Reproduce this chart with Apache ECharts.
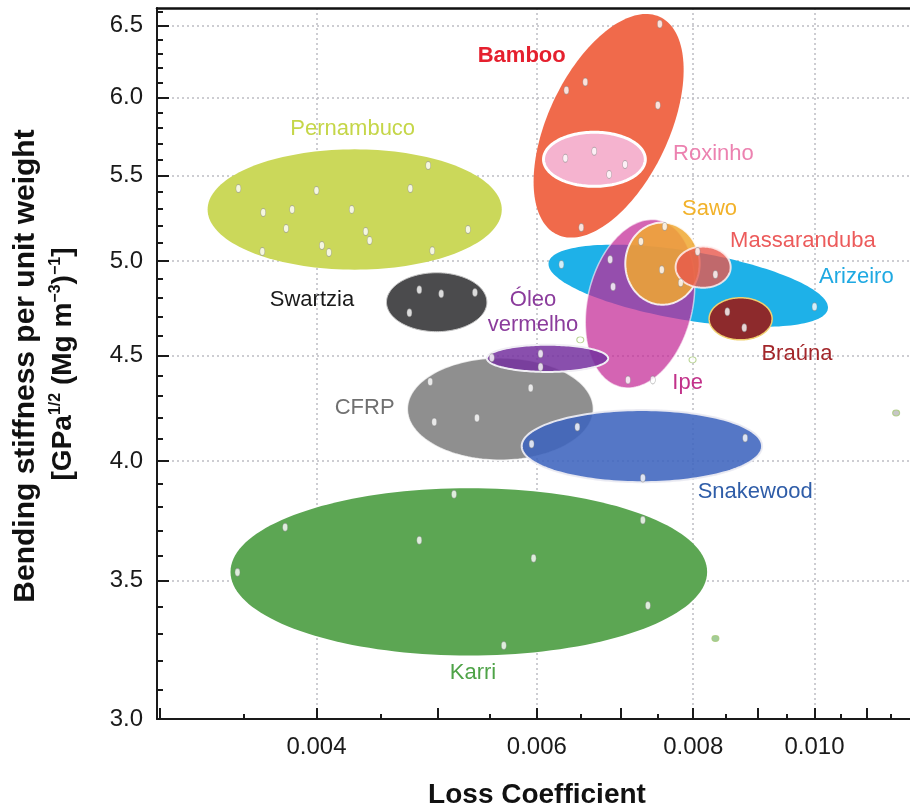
<!DOCTYPE html>
<html>
<head>
<meta charset="utf-8">
<script src="https://cdn.jsdelivr.net/npm/echarts@6/dist/echarts.min.js"></script>
<style>
  html, body { margin: 0; padding: 0; background: #fff; }
  #chart { width: 910px; height: 810px; }
</style>
</head>
<body>
<div id="chart"></div>
<script>
// Property ranges per material (loss coefficient, specific bending stiffness)
const materials = ['Pernambuco', 'Karri', 'CFRP', 'Swartzia', 'Snakewood', 'Bamboo', 'Roxinho',
  'Arizeiro', 'Ipe', 'Óleo vermelho', 'Sawo', 'Massaranduba', 'Braúna'];
const lossMin = [0.003274, 0.003415, 0.004728, 0.00455, 0.005835, 0.005964, 0.006074,
  0.00613, 0.006559, 0.005473, 0.00706, 0.007745, 0.008237];
const lossMax = [0.005625, 0.008207, 0.006658, 0.005473, 0.00908, 0.00786, 0.007325,
  0.01025, 0.008023, 0.006841, 0.008095, 0.00857, 0.00925];
const stiffMin = [4.952, 3.22, 4.004, 4.621, 3.907, 5.132, 5.434,
  4.646, 4.34, 4.418, 4.762, 4.853, 4.579];
const stiffMax = [5.663, 3.881, 4.488, 4.935, 4.234, 6.586, 5.772,
  5.092, 5.237, 4.554, 5.219, 5.081, 4.799];
// correlation between log(loss) and log(stiffness) inside each region (tilt of the ellipse)
const correlation = [0, 0, 0, 0, 0, 0.5, 0, -0.53, 0.22, 0, 0, 0, 0];

// Individual specimens
const specimenLoss = [
  0.003465, 0.0040, 0.004913, 0.004754, 0.003627, 0.003825, 0.004268, 0.003783, 0.004379, 0.004411,
  0.005286, 0.003621, 0.00404, 0.004093, 0.00495,
  0.007523, 0.006559, 0.006511, 0.006335, 0.007496,
  0.006323, 0.006668, 0.007057, 0.006853,
  0.004833, 0.005032, 0.005354, 0.004746,
  0.004931, 0.005932, 0.004968, 0.005374,
  0.005523, 0.006041, 0.006041,
  0.005942, 0.006464, 0.008802, 0.007292,
  0.003459, 0.003776, 0.004833, 0.005152, 0.005964, 0.007292, 0.00736, 0.005646,
  0.006277, 0.01,
  0.007591, 0.007266, 0.00755, 0.007818,
  0.006866, 0.006903, 0.007095, 0.007427,
  0.008064, 0.008333,
  0.008518, 0.008788
];
const specimenStiff = [
  5.421, 5.409, 5.562, 5.421, 5.278, 5.296, 5.296, 5.184, 5.167, 5.115,
  5.179, 5.053, 5.087, 5.047, 5.058,
  6.512, 6.104, 5.19, 6.049, 5.948,
  5.607, 5.651, 5.568, 5.507,
  4.842, 4.821, 4.827, 4.72,
  4.37, 4.34, 4.178, 4.197,
  4.488, 4.508, 4.443,
  4.077, 4.155, 4.104, 3.925,
  3.533, 3.715, 3.662, 3.855, 3.589, 3.745, 3.405, 3.256,
  4.98, 4.751,
  5.196, 5.11, 4.952, 4.88,
  5.008, 4.859, 4.379, 4.379,
  5.053, 4.925,
  4.725, 4.641
];
// Isolated single measurements
const singleLoss = [0.00799, 0.01162, 0.008333, 0.006499];
const singleStiff = [4.478, 4.22, 3.282, 4.579];

// Axis ticks
const xTickLabels = [0.004, 0.006, 0.008, 0.010];
const xMajorTicks = [0.003, 0.004, 0.005, 0.006, 0.007, 0.008, 0.009, 0.010, 0.011];
const xMinorTicks = [0.0035, 0.0045, 0.0055, 0.0065, 0.0075, 0.0085, 0.0095, 0.0105, 0.0115];
const yTickLabels = [3.0, 3.5, 4.0, 4.5, 5.0, 5.5, 6.0, 6.5];
const yMinorTicks = [3.1, 3.2, 3.3, 3.4, 3.6, 3.7, 3.8, 3.9, 4.1, 4.2, 4.3, 4.4, 4.6, 4.7, 4.8, 4.9,
  5.1, 5.2, 5.3, 5.4, 5.6, 5.7, 5.8, 5.9, 6.1, 6.2, 6.3, 6.4, 6.6];
const xRange = [0.002983, 0.01192];
const yRange = [3.0, 6.63];

// ---- presentation ----
const FONT = '"Liberation Sans", Arial, Helvetica, sans-serif';
const L = Math.log10;

const regionStyle = {
  'Pernambuco':    { fill: '#cbd85a' },
  'Karri':         { fill: '#5ca653' },
  'CFRP':          { fill: '#8f8f8f', stroke: 'rgba(255,255,255,0.75)', lw: 1.5 },
  'Swartzia':      { fill: '#4b4b4d', stroke: '#c8c8c8', lw: 1 },
  'Snakewood':     { fill: 'rgba(62,100,190,0.88)', stroke: 'rgba(235,235,242,0.95)', lw: 2 },
  'Bamboo':        { fill: '#f06a4b' },
  'Roxinho':       { fill: '#f5b3cf', stroke: '#ffffff', lw: 3 },
  'Arizeiro':      { fill: '#1eb1e8' },
  'Ipe':           { fill: 'rgba(196,40,150,0.72)', stroke: 'rgba(255,255,255,0.6)', lw: 1.5 },
  'Óleo vermelho': { fill: 'rgba(118,50,160,0.86)', stroke: '#f0eef4', lw: 2 },
  'Sawo':          { fill: 'rgba(240,168,48,0.85)', stroke: 'rgba(255,255,255,0.85)', lw: 2 },
  'Massaranduba':  { fill: 'rgba(232,88,76,0.8)', stroke: 'rgba(255,240,240,0.85)', lw: 2 },
  'Braúna':        { fill: '#8d2a2c', stroke: '#f0d070', lw: 1.5 }
};

// label anchor in data units [loss, stiffness]
const labelLayout = {
  'Bamboo':        { at: [0.005835, 6.284], color: '#e5202e', bold: true },
  'Pernambuco':    { at: [0.004276, 5.791], color: '#c5d648' },
  'Roxinho':       { at: [0.008303, 5.632], color: '#ec82b0' },
  'Sawo':          { at: [0.008243, 5.296], color: '#f2b22a' },
  'Massaranduba':  { at: [0.009788, 5.115], color: '#ec5b5b' },
  'Arizeiro':      { at: [0.0108, 4.913], color: '#1fa9e2' },
  'Swartzia':      { at: [0.003967, 4.789], color: '#1a1a1a' },
  'Óleo vermelho': { at: [0.005958, 4.72], color: '#8b3c9c', text: 'Óleo\nvermelho' },
  'Braúna':        { at: [0.009681, 4.508], color: '#a3272b' },
  'Ipe':           { at: [0.007918, 4.364], color: '#c2328a' },
  'CFRP':          { at: [0.004371, 4.244], color: '#707070' },
  'Snakewood':     { at: [0.008965, 3.864], color: '#2f5da8' },
  'Karri':         { at: [0.005335, 3.159], color: '#4ea347' }
};

const regionData = materials.map((m, i) => ({
  name: m,
  value: [L(lossMin[i]), L(lossMax[i]), L(stiffMin[i]), L(stiffMax[i]), correlation[i]]
}));

function renderRegion(params, api) {
  const x0 = api.value(0), x1 = api.value(1), y0 = api.value(2), y1 = api.value(3), r = api.value(4);
  const cx = (x0 + x1) / 2, ax = (x1 - x0) / 2;
  const cy = (y0 + y1) / 2, ay = (y1 - y0) / 2;
  const delta = Math.acos(Math.max(-0.999, Math.min(0.999, r)));
  const pts = [];
  const N = 160;
  for (let k = 0; k < N; k++) {
    const t = (k / N) * Math.PI * 2;
    pts.push(api.coord([cx + ax * Math.cos(t), cy + ay * Math.cos(t - delta)]));
  }
  const st = regionStyle[materials[params.dataIndex]];
  return {
    type: 'polygon',
    shape: { points: pts },
    style: {
      fill: st.fill,
      stroke: st.stroke || 'none',
      lineWidth: st.lw || 0
    }
  };
}

const labelData = materials.map(m => ({
  name: m,
  value: [L(labelLayout[m].at[0]), L(labelLayout[m].at[1])]
}));

function renderLabel(params, api) {
  const m = materials[params.dataIndex];
  const lay = labelLayout[m];
  const p = api.coord([api.value(0), api.value(1)]);
  return {
    type: 'text',
    x: p[0], y: p[1],
    style: {
      text: lay.text || m,
      fill: lay.color,
      font: (lay.bold ? 'bold ' : '') + '22px ' + FONT,
      lineHeight: 25,
      align: 'center',
      verticalAlign: 'middle'
    },
    z2: 50
  };
}

const tickColor = '#1a1a1a';
const baseX = {
  type: 'value', min: L(xRange[0]), max: L(xRange[1]), position: 'bottom',
  axisLine: { show: false, onZero: false },
  axisLabel: { show: false },
  splitLine: { show: false }
};
const baseY = {
  type: 'value', min: L(yRange[0]), max: L(yRange[1]), position: 'left',
  axisLine: { show: false, onZero: false },
  axisLabel: { show: false },
  splitLine: { show: false }
};
const gridLine = { show: true, lineStyle: { color: '#bdbdc4', width: 1.5, type: [2, 3] } };

const chart = echarts.init(document.getElementById('chart'), null, { renderer: 'canvas' });
chart.setOption({
  backgroundColor: '#ffffff',
  animation: false,
  grid: { left: 157, top: 8, right: 0, bottom: 91 },
  xAxis: [
    Object.assign({}, baseX, {
      axisLine: { show: true, onZero: false, lineStyle: { color: tickColor, width: 2 } },
      axisTick: { show: true, inside: true, length: 11, customValues: xMajorTicks.map(L),
        lineStyle: { color: tickColor, width: 2 } }
    }),
    Object.assign({}, baseX, {
      axisTick: { show: true, inside: true, length: 5, customValues: xMinorTicks.map(L),
        lineStyle: { color: tickColor, width: 2 } }
    }),
    Object.assign({}, baseX, {
      axisTick: { show: false, customValues: xTickLabels.map(L) },
      axisLabel: {
        show: true, customValues: xTickLabels.map(L), margin: 16,
        color: '#1a1a1a', fontSize: 24, fontFamily: FONT,
        formatter: v => Math.pow(10, v).toFixed(3)
      },
      splitLine: gridLine
    }),
    Object.assign({}, baseX, {
      position: 'top',
      axisLine: { show: true, onZero: false, lineStyle: { color: '#111', width: 2.5 } },
      axisTick: { show: false }
    })
  ],
  yAxis: [
    Object.assign({}, baseY, {
      axisLine: { show: true, onZero: false, lineStyle: { color: tickColor, width: 2 } },
      axisTick: { show: true, inside: true, length: 12, customValues: yTickLabels.map(L),
        lineStyle: { color: tickColor, width: 2 } },
      axisLabel: {
        show: true, customValues: yTickLabels.map(L), margin: 14,
        color: '#1a1a1a', fontSize: 24, fontFamily: FONT,
        formatter: v => Math.pow(10, v).toFixed(1)
      },
      splitLine: gridLine
    }),
    Object.assign({}, baseY, {
      axisTick: { show: true, inside: true, length: 6, customValues: yMinorTicks.map(L),
        lineStyle: { color: tickColor, width: 2 } }
    })
  ],
  series: [
    {
      type: 'custom', name: 'regions', coordinateSystem: 'cartesian2d',
      renderItem: renderRegion, data: regionData, z: 2, silent: true
    },
    {
      type: 'scatter', name: 'specimens', z: 3, silent: true,
      data: specimenLoss.map((v, i) => [L(v), L(specimenStiff[i])]),
      symbol: 'circle', symbolSize: [5, 8],
      itemStyle: { color: '#ffffff', borderColor: 'rgba(130,130,130,0.7)', borderWidth: 0.8 }
    },
    {
      type: 'scatter', name: 'single', z: 3, silent: true,
      data: singleLoss.map((v, i) => [L(v), L(singleStiff[i])]),
      symbol: 'circle', symbolSize: [7, 6],
      itemStyle: {
        color: (p) => ['#ffffff', '#b8b8b8', '#8cc080', '#ffffff'][p.dataIndex],
        borderColor: '#a6c878', borderWidth: 1
      }
    },
    {
      type: 'custom', name: 'labels', coordinateSystem: 'cartesian2d',
      renderItem: renderLabel, data: labelData, z: 5, silent: true
    }
  ],
  graphic: [
    {
      type: 'text', x: 537, y: 795,
      style: { text: 'Loss Coefficient', font: 'bold 28px ' + FONT, fill: '#111',
        align: 'center', verticalAlign: 'middle' }
    },
    {
      type: 'text', x: 26, y: 366, rotation: Math.PI / 2,
      style: { text: 'Bending stiffness per unit weight', font: 'bold 30px ' + FONT, fill: '#111',
        align: 'center', verticalAlign: 'middle' }
    },
    {
      type: 'text', x: 63, y: 364, rotation: Math.PI / 2,
      style: {
        text: '{b|[GPa}{s|1/2}{b| (Mg m}{s|−3}{b|)}{s|−1}{b|]}',
        align: 'center', verticalAlign: 'middle',
        rich: {
          b: { font: 'bold 28px ' + FONT, fill: '#111', lineHeight: 30 },
          s: { font: 'bold 16px ' + FONT, fill: '#111', lineHeight: 16, verticalAlign: 'top' }
        }
      }
    }
  ]
});
</script>
</body>
</html>
